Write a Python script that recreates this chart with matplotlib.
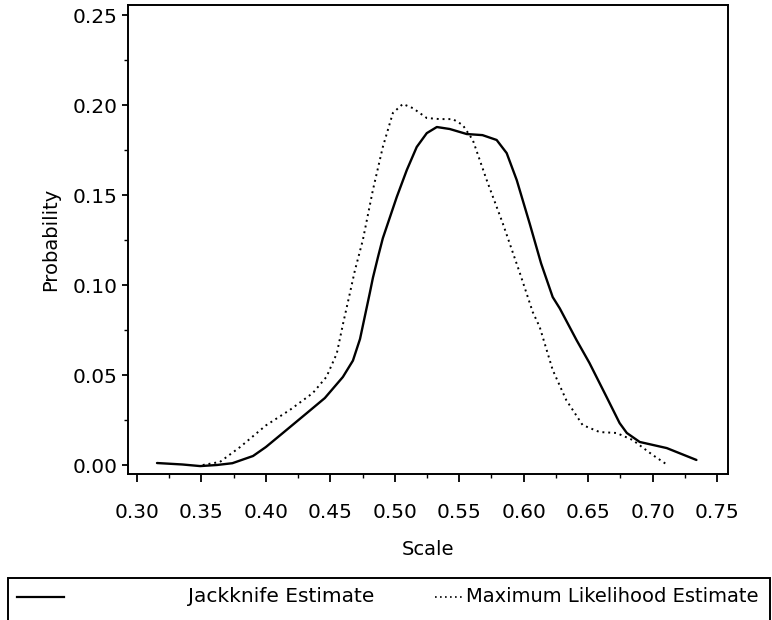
import matplotlib
matplotlib.use("Agg")
import matplotlib.pyplot as plt
from matplotlib.lines import Line2D
from matplotlib.patches import Rectangle
from matplotlib.ticker import MultipleLocator, FormatStrFormatter

# Jackknife estimate (solid)
jk_x = [0.3155, 0.335, 0.349, 0.362, 0.374, 0.390, 0.400, 0.413, 0.432, 0.4457,
        0.4597, 0.4675, 0.473, 0.4806, 0.483, 0.4871, 0.4907, 0.5015, 0.5093,
        0.517, 0.5248, 0.5326, 0.5426, 0.5558, 0.568, 0.579, 0.5868, 0.5946,
        0.6047, 0.6135, 0.6225, 0.628, 0.641, 0.651, 0.6643, 0.6744, 0.680,
        0.690, 0.711, 0.734]
jk_y = [0.0011, 0.0003, -0.0006, 0.0000, 0.001, 0.005, 0.010, 0.0177, 0.029, 0.0372,
        0.0489, 0.058, 0.0700, 0.0956, 0.104, 0.116, 0.126, 0.1489, 0.1639,
        0.1767, 0.1844, 0.1878, 0.1867, 0.1839, 0.1833, 0.1806, 0.1733, 0.1583,
        0.134, 0.112, 0.0933, 0.0870, 0.0694, 0.0567, 0.0378, 0.0233, 0.0178,
        0.0128, 0.0094, 0.0028]

# Maximum likelihood estimate (dotted)
ml_x = [0.351, 0.3643, 0.380, 0.400, 0.4186, 0.4364, 0.447, 0.455, 0.460, 0.465,
        0.469, 0.4752, 0.483, 0.4907, 0.4985, 0.5062, 0.514, 0.5248, 0.5349,
        0.545, 0.5527, 0.5605, 0.5713, 0.5837, 0.597, 0.607, 0.6124, 0.6225,
        0.633, 0.6457, 0.6589, 0.672, 0.6845, 0.700, 0.7116]
ml_y = [0.0, 0.0017, 0.010, 0.022, 0.0306, 0.040, 0.049, 0.062, 0.079, 0.095,
        0.108, 0.125, 0.1528, 0.1767, 0.1956, 0.2006, 0.1983, 0.1928, 0.1922,
        0.1922, 0.1889, 0.1806, 0.1583, 0.1344, 0.1067, 0.085, 0.0767, 0.0528,
        0.0361, 0.0222, 0.0183, 0.0178, 0.0139, 0.0056, 0.0]

x_ticks = [0.30, 0.35, 0.40, 0.45, 0.50, 0.55, 0.60, 0.65, 0.70, 0.75]
y_ticks = [0.00, 0.05, 0.10, 0.15, 0.20, 0.25]
labels = ["Jackknife Estimate", "Maximum Likelihood Estimate"]

plt.rcParams['font.family'] = ['DejaVu Sans']
fig = plt.figure(figsize=(7.72, 6.2), dpi=100)
ax = fig.add_axes([128/772, 1-474/620, 600/772, 469/620])

ax.plot(jk_x, jk_y, color='black', lw=1.7, solid_capstyle='round', solid_joinstyle='round')
ax.plot(ml_x, ml_y, color='black', lw=1.4, linestyle=(0, (1, 2)))

ax.set_xlim(0.293, 0.7585)
ax.set_ylim(-0.005, 0.2556)
ax.set_xticks(x_ticks)
ax.set_yticks(y_ticks)
ax.xaxis.set_major_formatter(FormatStrFormatter('%.2f'))
ax.yaxis.set_major_formatter(FormatStrFormatter('%.2f'))
ax.xaxis.set_minor_locator(MultipleLocator(0.025))
ax.yaxis.set_minor_locator(MultipleLocator(0.025))
ax.tick_params(axis='x', which='major', length=6, width=1.3, labelsize=14.5,
               direction='out', pad=15)
ax.tick_params(axis='y', which='major', length=4.5, width=1.3, labelsize=14.5,
               direction='out', pad=3)
ax.tick_params(which='minor', length=3, width=1.0, direction='out')
for s in ax.spines.values():
    s.set_linewidth(1.4)
ax.set_xlabel("Scale", fontsize=14, labelpad=13)
ax.set_ylabel("Probability", fontsize=14, labelpad=9)

# Legend box
fig.patches.append(Rectangle((8/772, -0.02), 762/772, 0.02 + 42/620,
                             transform=fig.transFigure, fill=False,
                             edgecolor='black', lw=1.4))
ly = 1 - 597/620
fig.lines.append(Line2D([17/772, 64/772], [ly, ly], transform=fig.transFigure,
                        color='black', lw=1.6))
fig.text(188/772, ly, labels[0], fontsize=14.5, va='center', ha='left')
fig.lines.append(Line2D([435/772, 462/772], [ly, ly], transform=fig.transFigure,
                        color='black', lw=1.2, linestyle=(0, (1, 2))))
fig.text(466/772, ly, labels[1], fontsize=14, va='center', ha='left')

fig.savefig("out.png", dpi=100)
